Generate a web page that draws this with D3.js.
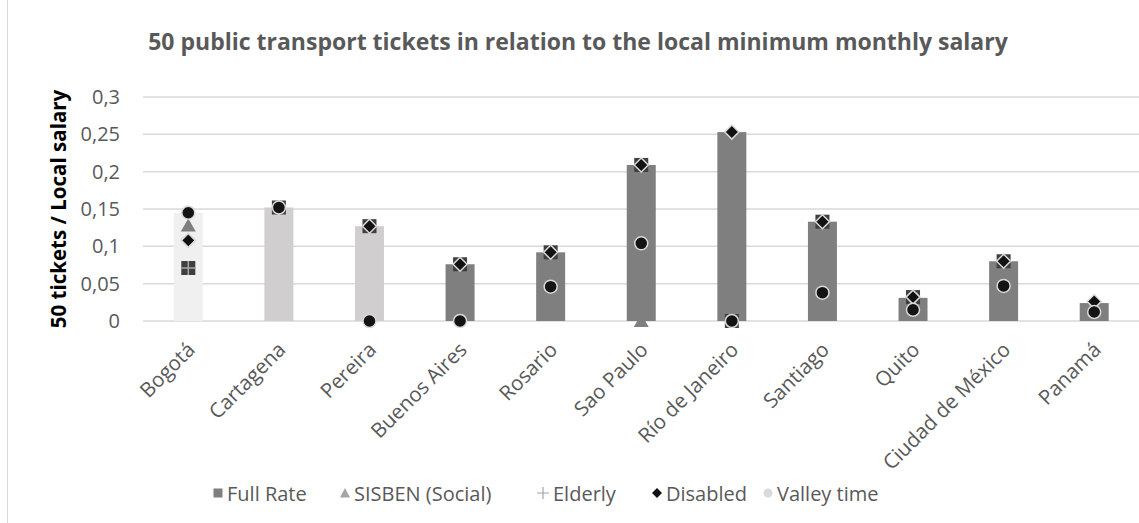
<!DOCTYPE html>
<html>
<head>
<meta charset="utf-8">
<script src="https://cdn.jsdelivr.net/npm/d3@7"></script>
<style>
  body { margin: 0; background: #fff; }
  svg { display: block; }
</style>
</head>
<body>
<div id="chart"></div>
<script>
const cities = ["Bogotá", "Cartagena", "Pereira", "Buenos Aires", "Rosario", "Sao Paulo",
  "Río de Janeiro", "Santiago", "Quito", "Ciudad de México", "Panamá"]
const fullRate  = [0.145, 0.152, 0.127, 0.076, 0.092, 0.209, 0.253, 0.133, 0.031, 0.080, 0.024]
const sisben    = [0.128, null, null, null, null, 0, null, null, null, null, null]
const elderly   = [0.071, 0.152, 0.127, 0.076, 0.092, 0.209, 0, 0.133, 0.032, 0.080, null]
const disabled  = [0.108, 0.152, 0.127, 0.076, 0.092, 0.209, 0.253, 0.133, 0.032, 0.080, 0.026]
const valley    = [0.145, 0.152, 0, 0, 0.046, 0.104, 0, 0.038, 0.015, 0.047, 0.012]
const barColors = ["#f0f0f0", "#d0cece", "#d0cece", "#7f7f7f", "#7f7f7f", "#7f7f7f",
  "#7f7f7f", "#7f7f7f", "#7f7f7f", "#7f7f7f", "#7f7f7f"]
const yTicks = [0, 0.05, 0.1, 0.15, 0.2, 0.25, 0.3]
const legendItems = ["Full Rate", "SISBEN (Social)", "Elderly", "Disabled", "Valley time"]

const W = 1139, H = 523
const margin = {top: 97, left: 143, right: 0, bottom: 202}

var svg = d3.select("#chart").append("svg")
    .attr("width", W)
    .attr("height", H)
    .style("font-family", "'Open Sans', sans-serif")

svg.append("line")
  .attr("x1", 7.5).attr("x2", 7.5).attr("y1", 0).attr("y2", H)
  .attr("stroke", "#d9d9d9").attr("stroke-width", 1)

var x = d3.scaleBand()
    .domain(cities)
    .range([margin.left, W - margin.right + 0.5])
    .paddingInner(0.68)
    .paddingOuter(0.34)

var y = d3.scaleLinear()
    .domain([0, 0.3])
    .range([H - margin.bottom, margin.top])

// gridlines
svg.append("g")
  .selectAll("line")
  .data(yTicks)
  .join("line")
    .attr("x1", margin.left).attr("x2", W)
    .attr("y1", d => y(d)).attr("y2", d => y(d))
    .attr("stroke", "#d9d9d9").attr("stroke-width", 1.5)

// y axis labels
var yAxis = d3.axisLeft(y)
    .tickValues(yTicks)
    .tickSize(0)
    .tickPadding(23)
    .tickFormat(d => d3.format(".2~f")(d).replace(".", ","))

svg.append("g")
  .attr("transform", `translate(${margin.left},0)`)
  .call(yAxis)
  .call(g => g.select(".domain").remove())
  .call(g => g.selectAll("text")
    .attr("fill", "#595959")
    .attr("font-size", "20px")
    .attr("font-family", "'Open Sans', sans-serif"))

// x axis labels
var xAxis = d3.axisBottom(x).tickSize(0).tickPadding(0)

svg.append("g")
  .attr("transform", `translate(0,${y(0)})`)
  .call(xAxis)
  .call(g => g.select(".domain").remove())
  .call(g => g.selectAll("text")
    .attr("fill", "#595959")
    .attr("font-size", "20.5px")
    .attr("font-family", "'Open Sans', sans-serif")
    .attr("text-anchor", "end")
    .attr("dy", "0")
    .attr("transform", "translate(8,30) rotate(-45)"))

const cx = d => x(d) + x.bandwidth() / 2

// bars
svg.append("g")
  .selectAll("rect")
  .data(cities)
  .join("rect")
    .attr("x", d => x(d))
    .attr("width", x.bandwidth())
    .attr("y", (d, i) => y(fullRate[i]))
    .attr("height", (d, i) => y(0) - y(fullRate[i]))
    .attr("fill", (d, i) => barColors[i])

function points(values) {
  return cities.map((c, i) => ({c, v: values[i]})).filter(d => d.v !== null)
}

// elderly: dark square with light cross
var eg = svg.append("g")
  .selectAll("g")
  .data(points(elderly))
  .join("g")
    .attr("transform", d => `translate(${cx(d.c)},${y(d.v)})`)
eg.append("rect")
  .attr("x", -7).attr("y", -7).attr("width", 14).attr("height", 14)
  .attr("fill", "#3f3f3f")
eg.append("path")
  .attr("d", "M-7,0H7M0,-7V7")
  .attr("stroke", "#a6a6a6").attr("stroke-width", 1.5)

// sisben triangles
svg.append("g")
  .selectAll("path")
  .data(points(sisben))
  .join("path")
    .attr("transform", d => `translate(${cx(d.c)},${y(d.v)})`)
    .attr("d", "M0,-7L7.5,6H-7.5Z")
    .attr("fill", "#7f7f7f")

// disabled diamonds
svg.append("g")
  .selectAll("path")
  .data(points(disabled))
  .join("path")
    .attr("transform", d => `translate(${cx(d.c)},${y(d.v)})`)
    .attr("d", "M0,-7L7,0L0,7L-7,0Z")
    .attr("fill", "#111")
    .attr("stroke", "#d9d9d9").attr("stroke-width", 1.5)

// valley time circles
svg.append("g")
  .selectAll("circle")
  .data(points(valley))
  .join("circle")
    .attr("cx", d => cx(d.c))
    .attr("cy", d => y(d.v))
    .attr("r", 6.5)
    .attr("fill", "#141414")
    .attr("stroke", "#d9d9d9").attr("stroke-width", 1.5)

// title
svg.append("text")
  .attr("x", 578).attr("y", 50)
  .attr("text-anchor", "middle")
  .attr("font-size", "23px")
  .attr("font-weight", "bold")
  .attr("fill", "#595959")
  .text("50 public transport tickets in relation to the local minimum monthly salary")

// y title
svg.append("text")
  .attr("transform", `translate(66,${(y(0) + y(0.3)) / 2}) rotate(-90)`)
  .attr("text-anchor", "middle")
  .attr("font-size", "20.5px")
  .attr("font-weight", "bold")
  .attr("fill", "#000")
  .text("50 tickets / Local salary")

// legend
const legendX = [218, 345, 543, 657, 768]
const legendColors = ["#7f7f7f", "#a5a5a5", "#a5a5a5", "#111", "#d9d9d9"]
var lg = svg.append("g").attr("transform", "translate(0,493)")
var items = lg.selectAll("g")
  .data(legendItems)
  .join("g")
    .attr("transform", (d, i) => `translate(${legendX[i]},0)`)
items.each(function(d, i) {
  const g = d3.select(this)
  if (i === 0) g.append("rect").attr("x", -4.5).attr("y", -4.5).attr("width", 9).attr("height", 9).attr("fill", legendColors[i])
  if (i === 1) g.append("path").attr("d", "M0,-5L5,4.5H-5Z").attr("fill", legendColors[i])
  if (i === 2) g.append("path").attr("d", "M-6,0H6M0,-6V6").attr("stroke", legendColors[i]).attr("stroke-width", 1.2)
  if (i === 3) g.append("path").attr("d", "M0,-5L5,0L0,5L-5,0Z").attr("fill", legendColors[i])
  if (i === 4) g.append("circle").attr("r", 4.5).attr("fill", legendColors[i])
})
items.append("text")
  .attr("x", (d, i) => i === 2 ? 10 : 9)
  .attr("y", 7.5)
  .attr("font-size", "20px")
  .attr("fill", "#595959")
  .text(d => d)
</script>
</body>
</html>
